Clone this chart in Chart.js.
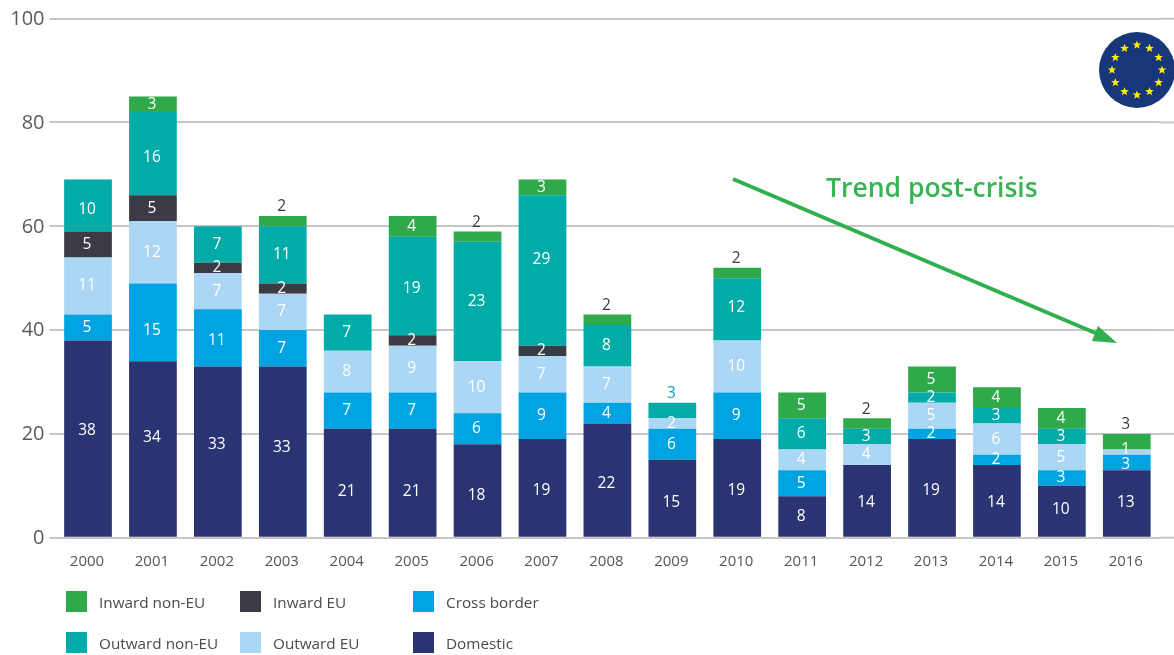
<!DOCTYPE html>
<html><head><meta charset="utf-8">
<style>html,body{margin:0;padding:0;background:#fff}#w{position:relative;width:1174px;height:655px;overflow:hidden}canvas{display:block;filter:blur(0.5px)}</style>
<script src="https://cdn.jsdelivr.net/npm/chart.js@4"></script>
</head><body><div id="w"><canvas id="c" width="1174" height="655"></canvas></div>
<script>
const years = ['2000','2001','2002','2003','2004','2005','2006','2007','2008','2009','2010','2011','2012','2013','2014','2015','2016'];
const domestic     = [38,34,33,33,21,21,18,19,22,15,19, 8,14,19,14,10,13];
const crossBorder  = [ 5,15,11, 7, 7, 7, 6, 9, 4, 6, 9, 5, 0, 2, 2, 3, 3];
const outwardEU    = [11,12, 7, 7, 8, 9,10, 7, 7, 2,10, 4, 4, 5, 6, 5, 1];
const inwardEU     = [ 5, 5, 2, 2, 0, 2, 0, 2, 0, 0, 0, 0, 0, 0, 0, 0, 0];
const outwardNonEU = [10,16, 7,11, 7,19,23,29, 8, 3,12, 6, 3, 2, 3, 3, 0];
const inwardNonEU  = [ 0, 3, 0, 2, 0, 4, 2, 3, 2, 0, 2, 5, 2, 5, 4, 4, 3];
const yTicks = [0,20,40,60,80,100];
const FONT = '"Open Sans"';

// Labels that sit above the bar instead of inside their segment: "year:series"
const aboveBar = {'2003:5':'#3b3c43','2006:5':'#3b3c43','2008:5':'#3b3c43','2009:4':'#00aba8','2010:5':'#3b3c43','2012:5':'#3b3c43','2016:5':'#3b3c43'};
// Label nudges in px, as placed in the source: "year:series"
const labelNudge = {
  '2000:0':-8,'2001:0':-11,'2002:0':-7,'2003:0':-4,'2004:0':9,'2005:0':9,'2006:0':5,'2007:0':3,'2008:0':3,'2009:0':4,'2010:0':3,
  '2012:0':2,'2013:0':3,'2014:0':2,'2015:0':-2,'2016:0':-1,
  '2000:4':4,'2001:4':4,'2001:1':8,'2002:1':3,'2005:4':3,'2007:4':-11,'2010:4':-2,
  '2016:2':-2,'2016:1':2
};

const series = [
  {label:'Domestic', data:domestic, backgroundColor:'#2a3473'},
  {label:'Cross border', data:crossBorder, backgroundColor:'#00a3e2'},
  {label:'Outward EU', data:outwardEU, backgroundColor:'#abd6f4'},
  {label:'Inward EU', data:inwardEU, backgroundColor:'#3b3c43'},
  {label:'Outward non-EU', data:outwardNonEU, backgroundColor:'#00aba8'},
  {label:'Inward non-EU', data:inwardNonEU, backgroundColor:'#2fa94a'}
];
const legendGrid = [
  [5,3,1],
  [4,2,0]
];

const segLabels = {
  id:'segLabels',
  afterDatasetsDraw(ch){
    const c=ch.ctx; c.save();
    c.font='15.5px '+FONT; c.textAlign='center'; c.textBaseline='middle';
    ch.data.datasets.forEach((ds,di)=>{
      const meta=ch.getDatasetMeta(di);
      meta.data.forEach((el,i)=>{
        const v=ds.data[i]; if(!v) return;
        const key=years[i]+':'+di;
        let y=(el.y+el.base)/2;
        if(aboveBar[key]){ c.fillStyle=aboveBar[key]; y=el.y-9; }
        else { c.fillStyle='#ffffff'; y+=labelNudge[key]||0; }
        c.fillText(String(v),el.x-1,y);
      });
    });
    c.restore();
  }
};
const gridExt = {
  id:'gridExt',
  beforeDatasetsDraw(ch){
    const c=ch.ctx,a=ch.chartArea,s=ch.scales.y; c.save();
    c.strokeStyle='#c6c6c6'; c.lineWidth=2;
    s.ticks.forEach(t=>{const y=s.getPixelForValue(t.value);c.beginPath();c.moveTo(a.right,y);c.lineTo(ch.width,y);c.stroke();});
    c.restore();
  }
};
const legendBlock = {
  id:'legendBlock',
  afterDraw(ch){
    const c=ch.ctx; c.save();
    const xs=[66,240,413], ys=[591,632];
    c.font='15.3px '+FONT; c.textBaseline='middle'; c.textAlign='left';
    legendGrid.forEach((row,r)=>row.forEach((di,k)=>{
      const ds=ch.data.datasets[di];
      c.fillStyle=ds.backgroundColor; c.fillRect(xs[k],ys[r],21,21);
      c.fillStyle='#4a4a4f'; c.fillText(ds.label,xs[k]+33,ys[r]+12.5);
    }));
    c.restore();
  }
};
const annot = {
  id:'annot',
  afterDraw(ch){
    const c=ch.ctx; c.save();
    // trend arrow
    c.strokeStyle='#2fb04d'; c.fillStyle='#2fb04d'; c.lineWidth=4;
    c.beginPath(); c.moveTo(733,179); c.lineTo(1100,335); c.stroke();
    c.beginPath(); c.moveTo(1117,343); c.lineTo(1098,326); c.lineTo(1092,341); c.closePath(); c.fill();
    c.font='600 26.5px '+FONT; c.textBaseline='middle'; c.textAlign='left'; c.fillStyle='#38b455';
    c.fillText('Trend post-crisis',826,189.5);
    // EU flag roundel
    const cx=1137,cy=70;
    c.fillStyle='#17377a'; c.beginPath(); c.arc(cx,cy,38,0,Math.PI*2); c.fill();
    c.fillStyle='#ffed00';
    for(let i=0;i<12;i++){
      const a=i*Math.PI/6, sx=cx+25*Math.sin(a), sy=cy-25*Math.cos(a);
      c.beginPath();
      for(let k=0;k<10;k++){
        const r=k%2?1.9:4.6, b=k*Math.PI/5;
        c.lineTo(sx+r*Math.sin(b),sy-r*Math.cos(b));
      }
      c.closePath(); c.fill();
    }
    c.restore();
  }
};

new Chart(document.getElementById('c'),{
  type:'bar',
  data:{labels:years,datasets:series.map(s=>({...s,barPercentage:0.735,categoryPercentage:1,borderWidth:0}))},
  plugins:[gridExt,segLabels,legendBlock,annot],
  options:{
    responsive:false,animation:false,
    layout:{padding:{left:0,top:18.7,right:14.75,bottom:0}},
    plugins:{legend:{display:false},tooltip:{enabled:false},title:{display:false}},
    scales:{
      x:{stacked:true,
        afterFit(s){s.height=117.3;},
        grid:{display:false},border:{display:false},
        ticks:{font:{family:FONT,size:15},color:'#55555a',padding:7,maxRotation:0,autoSkip:false,labelOffset:-1}},
      y:{stacked:true,min:0,max:100,
        afterFit(s){s.width=55.55;},
        afterBuildTicks(s){s.ticks=yTicks.map(v=>({value:v}));},
        grid:{color:'#c6c6c6',lineWidth:2,tickLength:6,drawTicks:true},border:{display:false},
        ticks:{font:{family:FONT,size:20},color:'#5a5a60',padding:5,labelOffset:0.5}}
    }
  }
});
</script></body></html>
